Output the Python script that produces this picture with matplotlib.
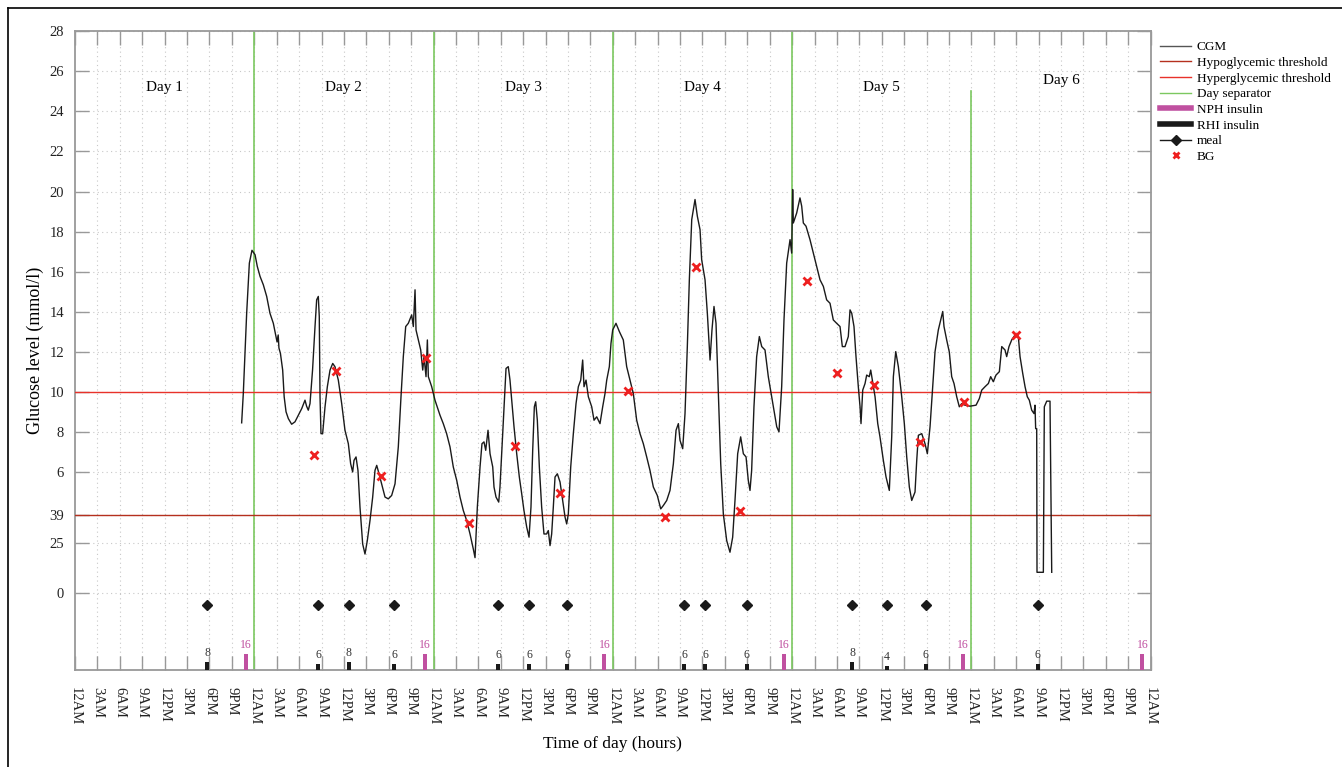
import matplotlib
matplotlib.use("Agg")
import matplotlib.pyplot as plt
from matplotlib.lines import Line2D
import numpy as np

plt.rcParams['font.family'] = ['Liberation Serif', 'DejaVu Serif']

# ---------------- data ----------------
cgm_t = [22.31, 22.53, 22.98, 23.34, 23.69, 24.1, 24.4, 24.77, 25.21, 25.66, 26.1, 26.55,
         27.05, 27.2, 27.3, 27.5, 27.8, 28.0, 28.25, 28.56, 29.0, 29.45, 29.9, 30.35, 30.79,
         31.0, 31.23, 31.46, 31.8, 32.13, 32.35, 32.57, 32.7, 32.8, 32.93, 33.15, 33.47, 33.78,
         34.14, 34.5, 34.8, 35.25, 35.7, 36.14, 36.59, 36.9, 37.17, 37.35, 37.62, 37.88, 38.15,
         38.51, 38.82, 39.13, 39.49, 39.85, 40.16, 40.39, 40.7, 41.05, 41.5, 41.94, 42.39, 42.84,
         43.28, 43.64, 43.95, 44.27, 44.62, 45.07, 45.29, 45.52, 45.65, 45.96, 46.28, 46.55,
         46.72, 46.99, 47.17, 47.3, 47.75, 48.19, 48.86, 49.3, 49.75, 50.2, 50.64, 51.1, 51.54,
         51.98, 52.43, 52.88, 53.32, 53.55,
         53.86, 54.22, 54.48, 54.75, 54.98, 55.29, 55.56, 55.92, 56.09, 56.36, 56.72, 56.89,
         57.25, 57.56, 57.7, 58.0, 58.23, 58.46, 58.77, 59.13, 59.48, 59.8, 60.1, 60.47, 60.78,
         61.04, 61.27, 61.49, 61.67, 61.89, 62.16, 62.47, 62.78, 63.14, 63.36, 63.59, 63.81,
         64.03, 64.26, 64.57, 64.93, 65.29, 65.6, 65.82, 66.04, 66.36, 66.71, 67.07, 67.38,
         67.7, 67.96, 68.14, 68.41, 68.72, 69.17, 69.48, 69.84, 70.28, 70.64, 70.95, 71.18,
         71.53, 71.75, 71.98, 72.42, 72.87,
         73.4, 73.85, 74.3, 74.74, 75.19, 75.64, 76.08, 76.53, 76.97, 77.42, 77.95, 78.41,
         78.76, 79.21, 79.65, 80.1, 80.46, 80.77, 80.99, 81.35, 81.66, 81.97, 82.24, 82.56,
         83.0, 83.31, 83.67, 83.89, 84.34, 84.65, 85.01, 85.27, 85.54, 85.81, 86.12, 86.44,
         86.79, 87.24, 87.68, 88.04, 88.35, 88.71, 89.11, 89.47, 89.83, 90.13, 90.36, 90.58,
         90.89, 91.25, 91.61, 91.93, 92.37, 92.81, 93.26, 93.57, 93.94, 94.24, 94.6, 94.91,
         95.27, 95.72, 95.94, 96.07, 96.16, 96.61, 97.05, 97.28, 97.5, 97.86, 98.39, 98.84,
         99.29, 99.73, 100.18, 100.62, 101.07, 101.51, 101.96, 102.41, 102.72, 103.08, 103.52,
         103.75, 103.98, 104.28, 104.55, 104.86, 105.09, 105.22, 105.45, 105.76, 105.98,
         106.33, 106.52, 106.74, 107.1, 107.46, 107.76, 108.21, 108.57, 109.01, 109.33,
         109.55, 109.87, 110.22, 110.67, 111.02, 111.34, 111.69, 112.01, 112.45, 112.68,
         112.9, 113.35, 113.79, 114.1, 114.46, 114.82, 115.13, 115.57, 115.89, 116.16, 116.33,
         116.69, 117.04, 117.36, 117.67, 118.03, 118.38, 118.7, 119.14, 119.81, 120.62, 121.06,
         121.38, 121.82, 122.27, 122.58, 122.93, 123.29, 123.74, 124.06, 124.5, 124.72, 125.03,
         125.39, 125.84, 126.28, 126.51, 126.87, 127.18, 127.48, 127.75, 128.07, 128.38,
         128.51, 128.6, 128.74, 128.78, 129.63, 129.76, 130.08, 130.52, 130.75]
cgm_v = [8.47, 9.93, 13.93, 16.43, 17.07, 16.85, 16.27, 15.77, 15.35, 14.77, 13.93, 13.43,
         12.5, 12.85, 12.2, 11.93, 11.1, 9.77, 9.02, 8.68, 8.4, 8.52, 8.85, 9.18, 9.6,
         9.3, 9.1, 9.43, 11.1, 13.27, 14.6, 14.77, 13.77, 9.77, 7.93, 7.93, 9.27, 10.27,
         11.1, 11.43, 11.27, 10.6, 9.43, 8.1, 7.43, 6.43, 6.02, 6.6, 6.77, 6.1, 4.27,
         2.43, 1.93, 2.6, 3.6, 4.77, 6.1, 6.35, 5.93, 5.43, 4.77, 4.68, 4.85, 5.43,
         7.27, 9.77, 11.77, 13.27, 13.43, 13.85, 13.27, 15.1, 13.1, 12.6, 12.1, 11.1,
         11.77, 10.77, 12.6, 10.77, 10.27, 9.6, 8.85, 8.43, 7.93, 7.27, 6.27, 5.6, 4.77,
         4.1, 3.6, 2.93, 2.18, 1.75,
         4.27, 6.27, 7.43, 7.52, 7.1, 8.1, 6.93, 6.27, 5.27, 4.77, 4.52, 5.27,
         7.93, 10.27, 11.18, 11.27, 10.6, 9.6, 8.27, 6.93, 5.77, 4.93, 4.1, 3.27, 2.77,
         4.27, 7.1, 9.27, 9.52, 8.6, 6.27, 4.27, 2.93, 2.93, 3.1, 2.35, 2.93,
         4.27, 5.77, 5.93, 5.52, 4.6, 3.77, 3.43, 3.93, 6.27, 7.93, 9.43, 10.27,
         10.6, 11.6, 10.27, 10.6, 9.77, 9.27, 8.6, 8.77, 8.43, 9.27, 9.93, 10.6,
         11.27, 12.43, 13.1, 13.43, 13.02,
         12.6, 11.27, 10.6, 9.93, 8.6, 7.93, 7.43, 6.77, 6.1, 5.27, 4.85, 4.18,
         4.35, 4.6, 5.1, 6.43, 8.1, 8.43, 7.6, 7.18, 8.93, 12.27, 15.6, 18.6,
         19.6, 18.77, 18.1, 16.6, 15.6, 13.93, 11.6, 13.1, 14.27, 13.43, 9.93, 6.43,
         3.93, 2.6, 2.02, 2.77, 4.6, 6.93, 7.77, 6.93, 6.77, 5.6, 5.1, 6.1,
         9.27, 11.77, 12.77, 12.27, 12.1, 10.77, 9.77, 9.1, 8.27, 8.02, 10.27, 13.6,
         16.43, 17.6, 16.93, 20.1, 18.43, 18.93, 19.68, 19.27, 18.43, 18.27, 17.6, 16.93,
         16.27, 15.6, 15.27, 14.6, 14.43, 13.6, 13.43, 13.27, 12.27, 12.27, 12.77,
         14.1, 13.93, 13.27, 11.77, 10.27, 9.27, 8.43, 10.1, 10.43, 10.85,
         10.77, 11.1, 10.6, 9.77, 8.43, 7.77, 6.6, 5.77, 5.1, 7.77,
         10.77, 12.02, 11.27, 9.77, 8.43, 6.77, 5.27, 4.6, 5.02, 6.6,
         7.85, 7.93, 7.43, 6.93, 8.27, 10.27, 12.02, 13.1, 13.6, 14.02, 13.27,
         12.6, 12.0, 10.77, 10.43, 9.77, 9.27, 9.43, 9.35, 9.3, 9.35, 9.68,
         10.1, 10.27, 10.43, 10.77, 10.52, 10.85, 11.02, 12.27, 12.1, 11.77, 12.27,
         12.6, 12.85, 12.77, 11.77, 10.93, 10.27, 9.77, 9.6, 9.1, 8.93,
         9.35, 8.18, 8.18, 1.02, 1.02, 9.27, 9.55, 9.55, 1.02]

bg_t = [32.0, 34.94, 40.96, 47.03, 52.74, 58.94, 64.93, 74.07, 79.02, 83.09, 89.02,
        97.95, 101.97, 107.0, 113.12, 119.0, 125.97]
bg_v = [6.88, 11.07, 5.82, 11.68, 3.48, 7.33, 4.98, 10.05, 3.77, 16.23, 4.1,
        15.52, 10.97, 10.38, 7.5, 9.53, 12.87]

meal_t = [17.71, 32.53, 36.64, 42.74, 56.63, 60.82, 65.90, 81.53, 84.38, 89.92,
          104.06, 108.66, 113.88, 128.88]
rhi_dose = [8, 6, 8, 6, 6, 6, 6, 6, 6, 6, 8, 4, 6, 6]

nph_t = [22.85, 46.89, 70.86, 94.87, 118.88, 142.88]
nph_dose = [16, 16, 16, 16, 16, 16]

day_sep = [24, 48, 72, 96, 120]
day_labels = ["Day 1", "Day 2", "Day 3", "Day 4", "Day 5", "Day 6"]

hypo = 3.9
hyper = 10.0

xtick_labels = ["12AM", "3AM", "6AM", "9AM", "12PM", "3PM", "6PM", "9PM"] * 6 + ["12AM"]
ytick_vals = [0, 2.5, 3.9, 6, 8, 10, 12, 14, 16, 18, 20, 22, 24, 26, 28]
ytick_labels = ["0", "25", "39", "6", "8", "10", "12", "14", "16", "18", "20", "22", "24", "26", "28"]

# ---------------- figure ----------------
fig = plt.figure(figsize=(13.42, 7.67), dpi=100)
ax = fig.add_axes([75 / 1342, 1 - 670 / 767, (1150.7 - 75) / 1342, (670 - 31) / 767])

YMIN, YMAX = -3.85, 28.0
ax.set_xlim(0, 144)
ax.set_ylim(YMIN, YMAX)

grid_kw = dict(color='#c8c8c8', linestyle=(0, (1, 3)), linewidth=0.8, zorder=0)
for xv in range(3, 144, 3):
    ax.axvline(xv, **grid_kw)
for yv in ytick_vals:
    ax.axhline(yv, **grid_kw)

green = '#7cc860'
for i, d in enumerate(day_sep):
    if i < len(day_sep) - 1:
        ax.plot([d, d], [YMIN, YMAX], color=green, lw=1.2, zorder=2)
    else:
        ax.plot([d, d], [YMIN, 25.0], color=green, lw=1.2, zorder=2)

ax.axhline(hyper, color='#e8322a', lw=1.0, zorder=3)
ax.axhline(hypo, color='#b5301e', lw=1.0, zorder=3)

ax.plot(cgm_t, cgm_v, color='#1a1a1a', lw=1.0, zorder=4)
ax.plot(bg_t, bg_v, linestyle='none', marker='x', color='#ee2020', ms=5.5, mew=2.0, zorder=6)

ax.plot(meal_t, [-0.6] * len(meal_t), linestyle='none', marker='D', color='#1a1a1a', ms=5.5, zorder=5)

ax.bar(meal_t, [d / 20 for d in rhi_dose], bottom=YMIN, width=0.55, color='#1a1a1a', zorder=5)
ax.bar(nph_t, [d / 20 for d in nph_dose], bottom=YMIN, width=0.55, color='#c050a0', zorder=5)
for t, d in zip(meal_t, rhi_dose):
    ax.text(t, YMIN + d / 20 + 0.15, str(d), ha='center', va='bottom', fontsize=8.5, color='#333333')
for t, d in zip(nph_t, nph_dose):
    ax.text(t, YMIN + d / 20 + 0.15, str(d), ha='center', va='bottom', fontsize=8.5, color='#c050a0')

for i, lab in enumerate(day_labels):
    yy = 25.2 if i < 5 else 25.55
    ax.text(24 * i + 12, yy, lab, ha='center', va='center', fontsize=11)

ax.set_xticks(np.arange(0, 145, 3))
ax.set_xticklabels(xtick_labels, rotation=-90, fontsize=10.5)
ax.set_yticks(ytick_vals)
ax.set_yticklabels(ytick_labels, fontsize=10.5)
ax.tick_params(axis='both', direction='in', length=10, width=1, color='#999999',
               top=True, right=True, labelcolor='#222222')
ax.tick_params(axis='x', pad=12)
ax.tick_params(axis='y', pad=8)
for s in ax.spines.values():
    s.set_color('#999999')
    s.set_linewidth(1.3)

ax.set_xlabel("Time of day (hours)", fontsize=12.5, labelpad=8)
ax.set_ylabel("Glucose level (mmol/l)", fontsize=13, labelpad=4)

handles = [
    Line2D([], [], color='#555555', lw=1.0),
    Line2D([], [], color='#b5301e', lw=1.0),
    Line2D([], [], color='#e8322a', lw=1.0),
    Line2D([], [], color=green, lw=1.0),
    Line2D([], [], color='#c050a0', lw=4),
    Line2D([], [], color='#1a1a1a', lw=4),
    Line2D([], [], color='#1a1a1a', lw=1.0, marker='D', ms=5),
    Line2D([], [], color='#ee2020', linestyle='none', marker='x', ms=5, mew=2),
]
labels = ["CGM", "Hypoglycemic threshold", "Hyperglycemic threshold", "Day separator",
          "NPH insulin", "RHI insulin", "meal", "BG"]
fig.legend(handles, labels, loc='upper left', bbox_to_anchor=(1160 / 1342, 1 - 41 / 767),
           frameon=False, fontsize=9.5, handlelength=2.35, handletextpad=0.45,
           labelspacing=0.26, borderaxespad=0, borderpad=0)

# outer frame (left and top edges visible)
fig.add_artist(Line2D([8 / 1342, 8 / 1342], [0, 1 - 8 / 767], transform=fig.transFigure,
                      color='black', lw=1.2))
fig.add_artist(Line2D([8 / 1342, 1], [1 - 8 / 767, 1 - 8 / 767], transform=fig.transFigure,
                      color='black', lw=1.2))

fig.savefig("out.png", dpi=100)
